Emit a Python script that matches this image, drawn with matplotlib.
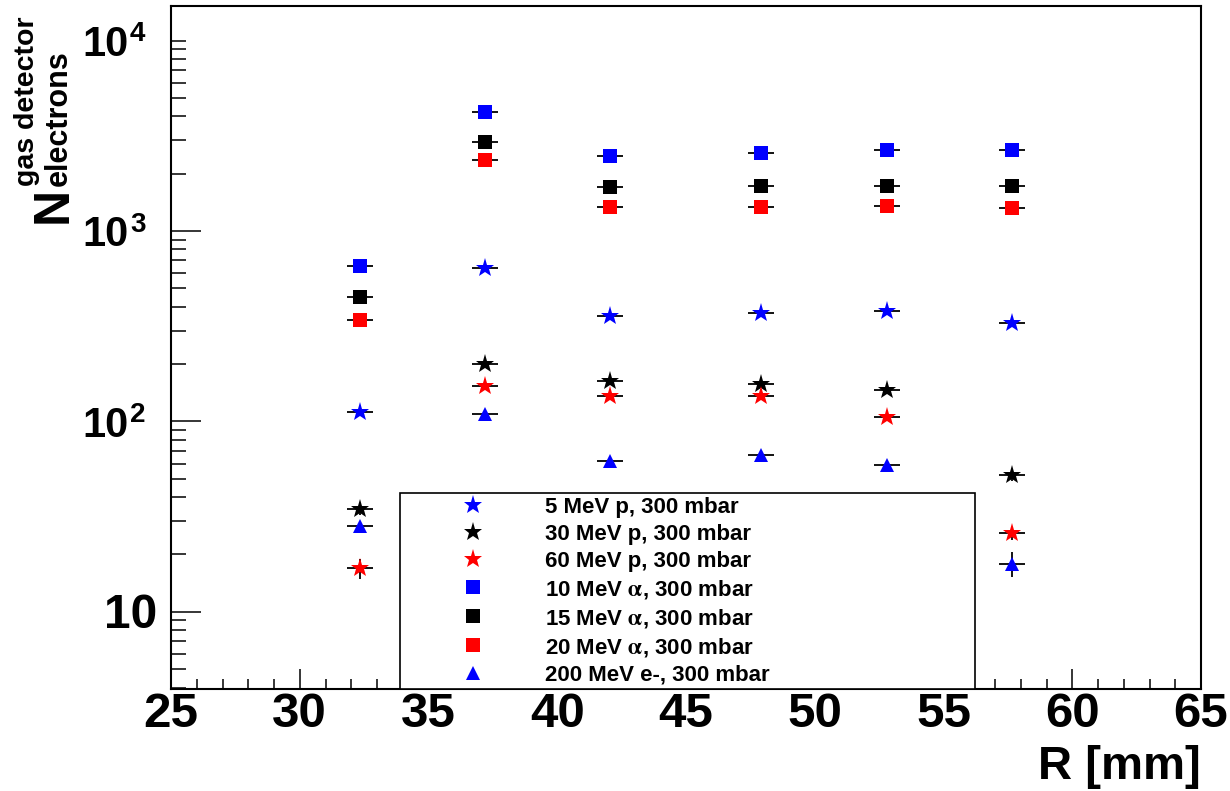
import matplotlib
matplotlib.use('Agg')
import matplotlib.pyplot as plt
from matplotlib.lines import Line2D
from matplotlib.ticker import FixedLocator, LogLocator, NullFormatter, MultipleLocator

plt.rcParams['font.family'] = ['Liberation Sans', 'DejaVu Sans']
plt.rcParams['font.weight'] = 'bold'
plt.rcParams['mathtext.fontset'] = 'stix'

# ---------------- data ----------------
R_mm = [32.35, 37.2, 42.05, 47.9, 52.8, 57.65]

labels = ["5 MeV p, 300 mbar",
          "30 MeV p, 300 mbar",
          "60 MeV p, 300 mbar",
          r"10 MeV $\mathrm{\alpha}$, 300 mbar",
          r"15 MeV $\mathrm{\alpha}$, 300 mbar",
          r"20 MeV $\mathrm{\alpha}$, 300 mbar",
          "200 MeV e-, 300 mbar"]

p5_vals = [112, 641, 357, 371, 380, 327]
p30_vals = [34.6, 199, 163, 157, 146, 52.2]
p60_vals = [16.9, 153, 136, 136, 105, 25.8]
a10_vals = [658, 4207, 2488, 2580, 2666, 2673]
a15_vals = [449, 2925, 1698, 1723, 1730, 1723]
a20_vals = [341, 2351, 1342, 1342, 1349, 1325]
e200_vals = [28.3, 110, 62.1, 66.3, 58.7, 17.9]

p5_err = [4, 10, 7, 7, 7, 6]
p30_err = [2.5, 6, 5, 5, 5, 3.5]
p60_err = [2.0, 5, 5, 5, 4, 2.0]
a10_err = [25, 80, 60, 60, 60, 60]
a15_err = [20, 60, 40, 40, 40, 40]
a20_err = [18, 50, 35, 35, 35, 35]
e200_err = [1.5, 4, 3, 3, 3, 2.6]

R_half_width = [0.5, 0.5, 0.5, 0.5, 0.5, 0.5]

ytick_major = [10, 100, 1000, 10000]
ytick_exp = ['', '2', '3', '4']
xtick_major = [25, 30, 35, 40, 45, 50, 55, 60, 65]

# ---------------- styles ----------------
values = [p5_vals, p30_vals, p60_vals, a10_vals, a15_vals, a20_vals, e200_vals]
errors = [p5_err, p30_err, p60_err, a10_err, a15_err, a20_err, e200_err]
colors = ['#0000ff', '#000000', '#ff0000', '#0000ff', '#000000', '#ff0000', '#0000ff']
markers = ['*', '*', '*', 's', 's', 's', '^']
msizes = [14, 14, 14, 9.6, 9.6, 9.6, 9.4]

fig = plt.figure(figsize=(12.3, 7.91), dpi=100)
L, Rt, B, T = 171 / 1230, 1201 / 1230, 1 - 689 / 791, 1 - 6 / 791
ax = fig.add_axes([L, B, Rt - L, T - B])

handles = []
for vals, errs, c, m, ms, lab in zip(values, errors, colors, markers, msizes, labels):
    ax.errorbar(R_mm, vals, yerr=errs, xerr=R_half_width, fmt=m, color=c,
                ms=ms, mew=0, ecolor='black', elinewidth=1.3, capsize=0)
    handles.append(Line2D([], [], ls='none', marker=m, color=c, ms=ms, mew=0, label=lab))

ax.set_yscale('log')
ax.set_xlim(25, 65)
ax.set_ylim(3.93, 15200)

# ticks
ax.xaxis.set_major_locator(FixedLocator(xtick_major))
ax.xaxis.set_minor_locator(MultipleLocator(1))
ax.yaxis.set_major_locator(FixedLocator(ytick_major[:-1]))
ax.yaxis.set_minor_locator(LogLocator(base=10, subs=(1, 2, 3, 4, 5, 6, 7, 8, 9), numticks=20))
ax.yaxis.set_major_formatter(NullFormatter())
ax.yaxis.set_minor_formatter(NullFormatter())
ax.tick_params(axis='x', which='major', direction='in', length=14.4, width=1.1,
               labelsize=35.5, pad=2, top=False)
ax.tick_params(axis='x', which='minor', direction='in', length=7.2, width=1.1, top=False)
ax.tick_params(axis='y', which='major', direction='in', length=21.6, width=1.1, right=False)
ax.tick_params(axis='y', which='minor', direction='in', length=11, width=1.1, right=False)
for lab in ax.get_xticklabels():
    lab.set_fontweight('bold')
for sp in ax.spines.values():
    sp.set_linewidth(1.5)

# y tick labels (ROOT style 10^n)
for v, e in zip(ytick_major, ytick_exp):
    if e == '':
        ax.annotate('10', xy=(0, v), xycoords=('axes fraction', 'data'), xytext=(-10, -3),
                    textcoords='offset points', ha='right', va='center',
                    fontsize=34.5, fontweight='bold')
    else:
        ax.annotate('10', xy=(0, v), xycoords=('axes fraction', 'data'), xytext=(-30.5, -3),
                    textcoords='offset points', ha='right', va='center',
                    fontsize=30, fontweight='bold')
        ax.annotate(e, xy=(0, v), xycoords=('axes fraction', 'data'), xytext=(-29.5, 14),
                    textcoords='offset points', ha='left', va='top',
                    fontsize=20, fontweight='bold')

# axis titles
ax.set_xlabel('R [mm]', fontsize=34, fontweight='bold', loc='right')
ax.xaxis.set_label_coords(1.0, -0.082)

def fpt(px, py):
    return px / 1230, 1 - py / 791

fig.text(*fpt(67, 223), 'N', rotation=90, rotation_mode='anchor', ha='left', va='baseline',
         fontsize=36, fontweight='bold')
fig.text(*fpt(67, 186), 'electrons', rotation=90, rotation_mode='anchor', ha='left',
         va='baseline', fontsize=22, fontweight='bold')
fig.text(*fpt(34, 186), 'gas detector', rotation=90, rotation_mode='anchor', ha='left',
         va='baseline', fontsize=20.5, fontweight='bold')

# legend
x0 = (400 - 171) / 1030
x1 = (975 - 171) / 1030
leg = ax.legend(handles=handles, loc='lower left', bbox_to_anchor=(x0, 0, x1 - x0, 0.29),
                mode='expand', fontsize=16, frameon=True, fancybox=False, framealpha=1,
                borderpad=0.15, labelspacing=0.27, handlelength=6.28, handletextpad=0.1,
                borderaxespad=0, markerscale=1.0)
leg.get_frame().set_edgecolor('black')
leg.get_frame().set_linewidth(1.2)
for t in leg.get_texts():
    t.set_fontweight('bold')

fig.savefig('out.png', dpi=100)
